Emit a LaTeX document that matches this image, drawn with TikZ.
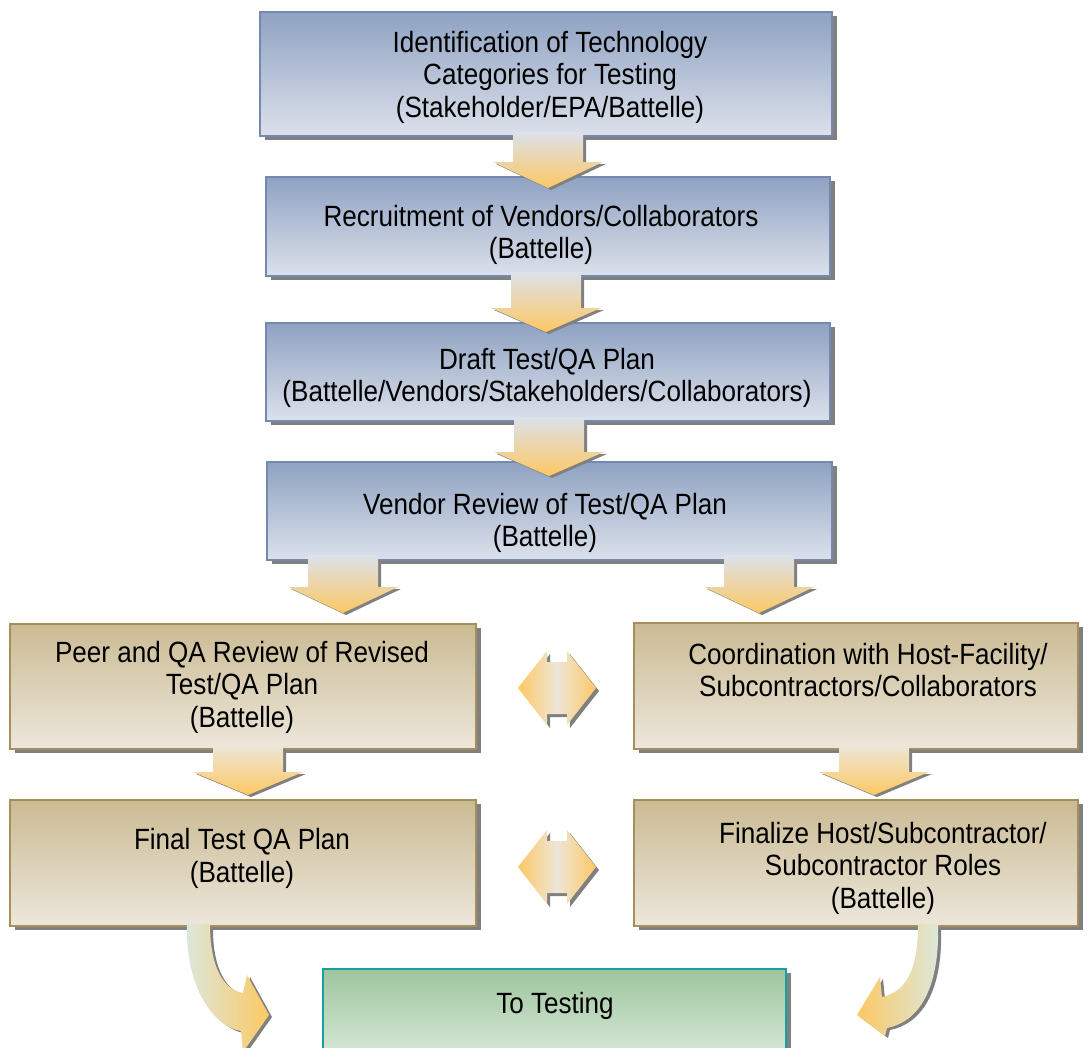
\documentclass[tikz,border=0pt]{standalone}
\usepackage{fontspec}
\setmainfont{Liberation Sans}[FakeStretch=0.89]
\usetikzlibrary{shadows}
\definecolor{bluetop}{HTML}{8FA2C2}
\definecolor{bluebot}{HTML}{DCE1EB}
\definecolor{blueline}{HTML}{7489B0}
\definecolor{tantop}{HTML}{CBBB94}
\definecolor{tanbot}{HTML}{EDE7DB}
\definecolor{tanline}{HTML}{A68F5B}
\definecolor{grntop}{HTML}{9DC59D}
\definecolor{grnbot}{HTML}{E2EDE2}
\definecolor{grnline}{HTML}{17A0A0}
\definecolor{orng}{HTML}{FDC864}
\definecolor{grnlt}{HTML}{DCE8DC}
\definecolor{shgray}{HTML}{808080}
\definecolor{beige}{HTML}{EDE6D8}
\tikzset{
  boxbase/.style={rectangle, inner sep=0pt, line width=1.3pt,
    drop shadow={shadow xshift=5pt, shadow yshift=-4pt, fill=shgray, opacity=1}},
  bluebox/.style={boxbase, draw=blueline, top color=bluetop, bottom color=bluebot},
  tanbox/.style={boxbase, draw=tanline, top color=tantop, bottom color=tanbot},
  grnbox/.style={boxbase, draw=grnline, line width=1.8pt, top color=grntop, bottom color=grnbot},
  txt/.style={align=center, inner sep=0pt, font=\fontsize{29.3}{32.5}\selectfont},
}
% straight down block arrow: cx, top, head y, tip y, top colour
\newcommand\dnarrow[5]{%
  \fill[shgray, shift={(3pt,-2pt)}] ({#1-35},{#2+3}) -- ({#1+35},{#2+3}) -- ({#1+35},#3) -- ({#1+55},#3) -- (#1,#4) -- ({#1-55},#3) -- ({#1-35},#3) -- cycle;
  \shade[top color=#5, bottom color=orng] ({#1-35},#2) -- ({#1+35},#2) -- ({#1+35},#3) -- ({#1+55},#3) -- (#1,#4) -- ({#1-55},#3) -- ({#1-35},#3) -- cycle;
}
% left-right double block arrow centred at y
\newcommand\dblarrow[1]{%
  \fill[shgray, shift={(3pt,-3pt)}] (518,#1) -- (547,{#1-37}) -- (547,{#1-26}) -- (567,{#1-26}) -- (567,{#1-37}) -- (596,#1) -- (567,{#1+37}) -- (567,{#1+26}) -- (547,{#1+26}) -- (547,{#1+37}) -- cycle;
  \shade[left color=orng, right color=orng, middle color=beige] (518,#1) -- (547,{#1-37}) -- (547,{#1-26}) -- (567,{#1-26}) -- (567,{#1-37}) -- (596,#1) -- (567,{#1+37}) -- (567,{#1+26}) -- (547,{#1+26}) -- (547,{#1+37}) -- cycle;
}
\begin{document}
\begin{tikzpicture}[x=1pt,y=-1pt]
\useasboundingbox (0,0) rectangle (1092,1047);
% boxes
\node[bluebox, minimum width=572pt, minimum height=124pt] (b1) at (546,74) {};
\node[bluebox, minimum width=564pt, minimum height=99pt] (b2) at (548,226.5) {};
\node[bluebox, minimum width=564pt, minimum height=98pt] (b3) at (548,372) {};
\node[bluebox, minimum width=565pt, minimum height=98pt] (b4) at (549.5,511) {};
\node[tanbox, minimum width=466pt, minimum height=125pt] (l1) at (243,686.5) {};
\node[tanbox, minimum width=466pt, minimum height=126pt] (l2) at (243,863) {};
\node[tanbox, minimum width=444pt, minimum height=126pt] (r1) at (856,686) {};
\node[tanbox, minimum width=444pt, minimum height=126pt] (r2) at (856,863) {};
\node[grnbox, minimum width=463pt, minimum height=100pt] (tt) at (554.5,1019) {};
% texts
\node[txt] (t1) at (550,77) {Identification of Technology\\Categories for Testing\\(Stakeholder/EPA/Battelle)};
\node[txt] (t2) at (541,235) {Recruitment of Vendors/Collaborators\\(Battelle)};
\node[txt] (t3) at (547,378) {Draft Test/QA Plan\\(Battelle/Vendors/Stakeholders/Collaborators)};
\node[txt] (t4) at (545,523) {Vendor Review of Test/QA Plan\\(Battelle)};
\node[txt] (tl1) at (242,687) {Peer and QA Review of Revised\\Test/QA Plan\\(Battelle)};
\node[txt] (tl2) at (242,858.5) {Final Test QA Plan\\(Battelle)};
\node[txt] (tr1) at (868,670) {Coordination with Host-Facility/\\Subcontractors/Collaborators};
\node[txt] (tr2) at (883,868) {Finalize Host/Subcontractor/\\Subcontractor Roles\\(Battelle)};
\node[txt] (ttt) at (555,1006) {To Testing};
% straight arrows
\dnarrow{548}{132}{162}{188}{bluebot}
\dnarrow{546}{272}{308}{332}{bluebot}
\dnarrow{549}{417}{452}{476}{bluebot}
\dnarrow{343}{555}{587}{613}{bluebot}
\dnarrow{759}{555}{587}{613}{bluebot}
\dnarrow{248}{744}{772}{795}{tanbot}
\dnarrow{874}{744}{772}{795}{tanbot}
% double arrows
\dblarrow{688}
\dblarrow{867}
% curved arrows
\fill[shgray, shift={(3pt,-2pt)}] (187,927) .. controls (185,985) and (212,1026) .. (241,1031) -- (243,1052) -- (269,1015) -- (247,975) -- (243,993) .. controls (224,990) and (210,968) .. (210,927) -- cycle;
\shade[left color=grnlt, right color=orng] (187,924) .. controls (185,985) and (212,1026) .. (241,1031) -- (243,1052) -- (269,1015) -- (247,975) -- (243,993) .. controls (224,990) and (210,968) .. (210,924) -- cycle;
\fill[shgray, shift={(3pt,-2pt)}] (938,927) .. controls (940,990) and (918,1022) .. (887,1028) -- (885,1036) -- (857,1015) -- (880,977) -- (882,997) .. controls (905,992) and (918,972) .. (918,927) -- cycle;
\shade[left color=orng, right color=grnlt] (938,924) .. controls (940,990) and (918,1022) .. (887,1028) -- (885,1036) -- (857,1015) -- (880,977) -- (882,997) .. controls (905,992) and (918,972) .. (918,924) -- cycle;
\end{tikzpicture}
\end{document}
